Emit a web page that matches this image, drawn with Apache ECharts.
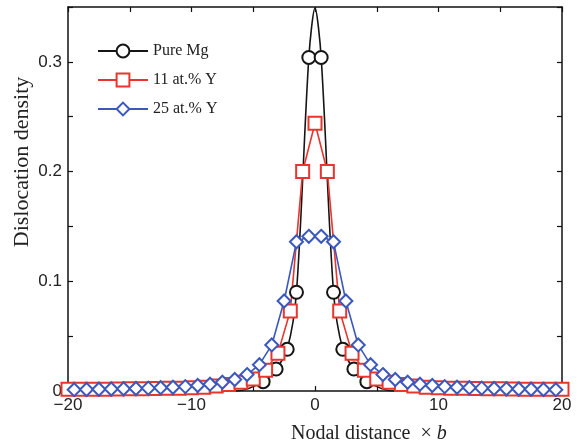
<!DOCTYPE html>
<html>
<head>
<meta charset="utf-8">
<script src="https://cdn.jsdelivr.net/npm/echarts@6/dist/echarts.min.js"></script>
<style>
html, body { margin: 0; padding: 0; background: #fff; }
#chart { width: 577px; height: 445px; }
</style>
</head>
<body>
<div id="chart"></div>
<script>
// Pure Mg: smooth curve, circles on the nodes (peak and tails carry no circle)
const pureMgX = [-20, -6.3, -4.2, -3.15, -2.25, -1.5, -0.5, 0, 0.5, 1.5, 2.25, 3.15, 4.2, 6.3, 20]
const pureMgY = [0, 0, 0.0085, 0.02, 0.038, 0.09, 0.304, 0.349, 0.304, 0.09, 0.038, 0.02, 0.0085, 0, 0]

// 11 at.% Y, integer nodes -20..20
const y11X = [-20, -19, -18, -17, -16, -15, -14, -13, -12, -11, -10, -9, -8, -7, -6, -5, -4, -3, -2, -1, 0,
	1, 2, 3, 4, 5, 6, 7, 8, 9, 10, 11, 12, 13, 14, 15, 16, 17, 18, 19, 20]
const y11Y = [0.0015, 0.0015, 0.0015, 0.0017, 0.0018, 0.002, 0.002, 0.0022, 0.0024, 0.0026, 0.003, 0.0035, 0.0045, 0.006, 0.008, 0.011, 0.019, 0.0345, 0.073, 0.2, 0.244,
	0.2, 0.073, 0.0345, 0.019, 0.011, 0.008, 0.006, 0.0045, 0.0035, 0.003, 0.0026, 0.0024, 0.0022, 0.002, 0.002, 0.0018, 0.0017, 0.0015, 0.0015, 0.0015]

// 25 at.% Y, half-integer nodes -19.5..19.5
const y25X = [-19.5, -18.5, -17.5, -16.5, -15.5, -14.5, -13.5, -12.5, -11.5, -10.5, -9.5, -8.5, -7.5, -6.5, -5.5, -4.5, -3.5, -2.5, -1.5, -0.5,
	0.5, 1.5, 2.5, 3.5, 4.5, 5.5, 6.5, 7.5, 8.5, 9.5, 10.5, 11.5, 12.5, 13.5, 14.5, 15.5, 16.5, 17.5, 18.5, 19.5]
const y25Y = [0.0012, 0.0014, 0.0016, 0.0018, 0.002, 0.0023, 0.0026, 0.003, 0.0034, 0.004, 0.005, 0.0062, 0.008, 0.0105, 0.015, 0.024, 0.042, 0.082, 0.136, 0.141,
	0.141, 0.136, 0.082, 0.042, 0.024, 0.015, 0.0105, 0.008, 0.0062, 0.005, 0.004, 0.0034, 0.003, 0.0026, 0.0023, 0.002, 0.0018, 0.0016, 0.0014, 0.0012]

const seriesNames = ['Pure Mg', '11 at.% Y', '25 at.% Y']

const pair = (xs, ys) => xs.map((x, i) => [x, ys[i]])

// no circle on the analytic peak nor on the flat tails
const pureMgData = pair(pureMgX, pureMgY).map((p) => {
	if (p[0] === 0 || Math.abs(p[0]) > 6) {
		return { value: p, symbol: 'none' }
	}
	return p
})

let chart = echarts.init(document.getElementById('chart'))

const axisLineStyle = { color: '#111', width: 1.5 }
const tickInside = { show: true, inside: true, length: 5, lineStyle: { color: '#111', width: 1.2 } }

let option = {
	animation: false,
	backgroundColor: '#fff',
	grid: { left: 68, right: 15, top: 7, bottom: 54 },
	title: {
		text: '{a|Nodal distance  ×}{b| b}',
		left: 286,
		top: 419,
		textStyle: {
			fontWeight: 'normal',
			rich: {
				a: { fontFamily: 'Liberation Serif', fontSize: 20, fontWeight: 'normal', color: '#222' },
				b: { fontFamily: 'Liberation Serif', fontSize: 20, fontWeight: 'normal', fontStyle: 'italic', color: '#222' }
			}
		}
	},
	// y axis title sits a little above the middle of the axis in the original
	graphic: [{
		type: 'text',
		x: 22,
		y: 162,
		rotation: Math.PI / 2,
		style: {
			text: 'Dislocation density',
			font: '22px "Liberation Serif"',
			fill: '#222',
			align: 'center',
			verticalAlign: 'middle'
		}
	}],
	legend: {
		data: seriesNames,
		orient: 'vertical',
		left: 92,
		top: 38,
		itemWidth: 50,
		itemHeight: 16,
		itemGap: 13,
		textStyle: { fontFamily: 'Liberation Serif', fontSize: 16, color: '#222' }
	},
	xAxis: [{
			type: 'value',
			min: -20,
			max: 20,
			interval: 5,
			axisLine: { onZero: false, lineStyle: axisLineStyle },
			axisTick: tickInside,
			splitLine: { show: false },
			axisLabel: {
				margin: 6,
				fontFamily: 'Liberation Sans',
				fontSize: 17,
				color: '#222',
				formatter: function (value) {
					if (value % 10 !== 0) return ''
					return value < 0 ? '\u2212' + Math.abs(value) : String(value)
				}
			}
		},
		{
			type: 'value',
			position: 'top',
			min: -20,
			max: 20,
			interval: 5,
			axisLine: { onZero: false, lineStyle: axisLineStyle },
			axisTick: tickInside,
			splitLine: { show: false },
			axisLabel: { show: false }
		}
	],
	yAxis: [{
			type: 'value',
			min: 0,
			max: 0.35,
			interval: 0.05,
			axisLine: { show: true, onZero: false, lineStyle: axisLineStyle },
			axisTick: tickInside,
			splitLine: { show: false },
			axisLabel: {
				margin: 6,
				fontFamily: 'Liberation Sans',
				fontSize: 17,
				color: '#222',
				formatter: function (value) {
					let k = Math.round(value * 100)
					if (k % 10 !== 0) return ''
					return k === 0 ? '0' : (k / 100).toFixed(1)
				}
			}
		},
		{
			type: 'value',
			position: 'right',
			min: 0,
			max: 0.35,
			interval: 0.05,
			axisLine: { show: true, onZero: false, lineStyle: axisLineStyle },
			axisTick: tickInside,
			splitLine: { show: false },
			axisLabel: { show: false }
		}
	],
	series: [{
			name: seriesNames[0],
			type: 'line',
			smooth: 0.3,
			data: pureMgData,
			symbol: 'emptyCircle',
			symbolSize: 13,
			lineStyle: { color: '#151515', width: 1.6 },
			itemStyle: { color: '#151515', borderWidth: 1.6 }
		},
		{
			name: seriesNames[1],
			type: 'line',
			data: pair(y11X, y11Y),
			symbol: 'emptyRect',
			symbolSize: 13,
			lineStyle: { color: '#e8362f', width: 1.6 },
			itemStyle: { color: '#e8362f', borderWidth: 1.6 }
		},
		{
			name: seriesNames[2],
			type: 'line',
			data: pair(y25X, y25Y),
			symbol: 'emptyDiamond',
			symbolSize: 13,
			lineStyle: { color: '#3a58bd', width: 1.6 },
			itemStyle: { color: '#3a58bd', borderWidth: 1.6 }
		}
	]
}

chart.setOption(option)
</script>
</body>
</html>
